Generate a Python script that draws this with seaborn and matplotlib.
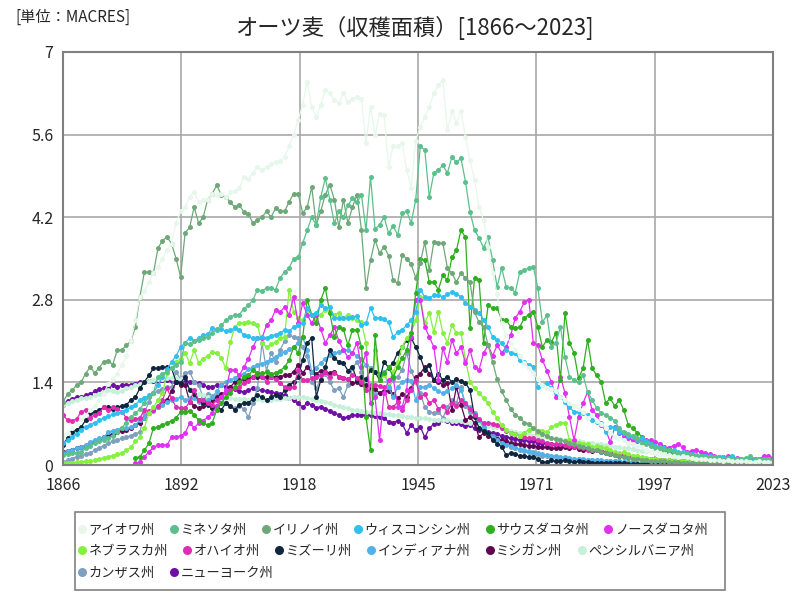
import numpy as np
import pandas as pd
import matplotlib
matplotlib.use("Agg")
import matplotlib.pyplot as plt
from matplotlib.lines import Line2D
from matplotlib.patches import Rectangle
import seaborn as sns

N = None
years = list(range(1866, 2024))

iowa = [0.50, 0.55, 0.62, 0.70, 0.78, 0.85, 0.93, 1.00, 1.10, 1.20,
        1.38, 1.45, 1.55, 1.70, 1.85, 2.10, 2.45, 2.85, 2.95, 3.10,
        3.25, 3.35, 3.50, 3.65, 3.75, 4.10, 4.30, 4.37, 4.55, 4.63,
        4.45, 4.50, 4.50, 4.60, 4.58, 4.60, 4.55, 4.62, 4.65, 4.70,
        4.88, 4.85, 4.95, 5.05, 5.00, 5.05, 5.10, 5.13, 5.15, 5.22,
        5.40, 5.60, 5.85, 6.10, 6.50, 6.07, 5.90, 6.10, 6.36, 6.30,
        6.19, 6.13, 6.30, 6.15, 6.20, 6.24, 6.20, 5.45, 6.07, 5.60,
        5.95, 5.93, 5.05, 5.40, 5.40, 5.45, 5.00, 4.70, 5.50, 5.73,
        5.90, 6.07, 6.30, 6.44, 6.52, 5.68, 6.00, 5.80, 6.00, 5.56,
        5.17, 4.83, 4.37, 4.15, 3.70, 3.25, 2.90, 2.40, 2.20, 2.07,
        1.95, 1.85, 1.73, 1.65, 1.56, 1.45, 1.35, 1.30, 1.28, 1.25,
        1.15, 1.10, 1.05, 1.00, 0.95, 0.90, 0.80, 0.85, 0.75, 0.70,
        0.62, 0.55, 0.48, 0.45, 0.42, 0.38, 0.35, 0.32, 0.30, 0.25,
        0.22, 0.20, 0.19, 0.18, 0.17, 0.15, 0.14, 0.15, 0.13, 0.12,
        0.11, 0.10, 0.10, 0.09, 0.09, 0.08, 0.07, 0.08, 0.07, 0.06,
        0.06, 0.06, 0.05, 0.05, 0.06, 0.05, 0.05, 0.05]

minnesota = [0.17, 0.19, 0.20, 0.21, 0.22, 0.28, 0.33, 0.37, 0.40, 0.43,
             0.45, 0.50, 0.56, 0.63, 0.72, 0.81, 0.88, 0.95, 1.05, 1.15,
             1.22, 1.50, 1.55, 1.58, 1.64, 1.70, 1.75, 2.07, 2.05, 2.10,
             2.12, 2.15, 2.17, 2.24, 2.30, 2.37, 2.45, 2.51, 2.54, 2.55,
             2.65, 2.71, 2.80, 2.97, 2.95, 3.00, 3.00, 2.97, 3.17, 3.27,
             3.34, 3.50, 3.52, 3.76, 3.98, 4.20, 4.07, 4.54, 4.86, 4.50,
             4.10, 4.30, 4.20, 4.40, 4.52, 4.45, 4.58, 3.98, 4.88, 4.00,
             4.07, 4.20, 3.93, 4.05, 3.90, 4.27, 4.30, 4.10, 4.50, 5.40,
             5.34, 4.54, 4.95, 5.00, 5.08, 4.95, 5.22, 5.13, 5.20, 4.80,
             4.29, 3.98, 3.85, 3.68, 3.86, 3.47, 3.02, 3.34, 3.02, 3.00,
             2.92, 3.27, 3.30, 3.34, 3.36, 3.00, 2.42, 2.54, 2.00, 2.07,
             2.34, 1.83, 1.50, 1.44, 1.40, 1.52, 1.24, 1.10, 0.97, 0.88,
             0.85, 0.80, 0.75, 0.62, 0.56, 0.52, 0.50, 0.45, 0.38, 0.35,
             0.32, 0.30, 0.28, 0.27, 0.25, 0.22, 0.20, 0.18, 0.18, 0.17,
             0.16, 0.15, 0.14, 0.14, 0.13, 0.12, 0.11, 0.12, 0.11, 0.10,
             0.10, 0.12, 0.15, 0.11, 0.10, 0.11, 0.10, 0.09]

illinois = [1.07, 1.20, 1.27, 1.35, 1.40, 1.55, 1.66, 1.56, 1.65, 1.75,
            1.77, 1.70, 1.95, 1.95, 2.03, 2.10, 2.34, 2.85, 3.27, 3.27,
            3.25, 3.68, 3.80, 3.87, 3.75, 3.50, 3.19, 3.93, 4.03, 4.37,
            4.10, 4.20, 4.50, 4.60, 4.74, 4.58, 4.55, 4.45, 4.37, 4.40,
            4.29, 4.25, 4.10, 4.15, 4.20, 4.30, 4.20, 4.35, 4.30, 4.30,
            4.46, 4.60, 4.60, 4.27, 4.37, 4.71, 4.07, 4.30, 4.58, 4.75,
            4.50, 4.03, 4.50, 4.10, 4.37, 4.58, 3.98, 3.00, 3.47, 3.81,
            3.59, 3.70, 3.55, 3.13, 3.08, 3.56, 3.50, 3.40, 3.17, 3.42,
            3.78, 3.30, 3.78, 3.76, 3.76, 3.34, 3.25, 3.10, 3.25, 3.17,
            3.10, 2.59, 2.42, 2.34, 2.03, 1.75, 1.45, 1.25, 1.10, 0.95,
            0.85, 0.80, 0.72, 0.70, 0.62, 0.58, 0.52, 0.50, 0.45, 0.44,
            0.42, 0.40, 0.38, 0.35, 0.33, 0.30, 0.28, 0.26, 0.25, 0.22,
            0.20, 0.18, 0.17, 0.15, 0.14, 0.12, 0.11, 0.10, 0.09, 0.08,
            0.07, 0.07, 0.06, 0.06, 0.05, 0.05, 0.05, 0.04, 0.04, 0.04,
            0.04, 0.03, 0.03, 0.03, 0.03, 0.03, 0.02, 0.02, 0.02, 0.02,
            0.02, 0.02, 0.02, 0.02, 0.02, 0.02, 0.02, 0.02]

wisconsin = [0.37, 0.42, 0.47, 0.53, 0.60, 0.64, 0.68, 0.72, 0.76, 0.80,
             0.83, 0.86, 0.88, 0.90, 0.93, 0.98, 1.02, 1.10, 1.14, 1.18,
             1.22, 1.35, 1.50, 1.62, 1.75, 1.85, 2.00, 2.07, 2.15, 2.10,
             2.15, 2.20, 2.22, 2.32, 2.29, 2.30, 2.27, 2.29, 2.32, 2.29,
             2.20, 2.18, 2.15, 2.15, 2.17, 2.15, 2.19, 2.21, 2.24, 2.29,
             2.27, 2.34, 2.37, 2.40, 2.66, 2.54, 2.58, 2.71, 2.66, 2.68,
             2.49, 2.49, 2.49, 2.49, 2.51, 2.53, 2.37, 2.40, 2.66, 2.49,
             2.49, 2.47, 2.42, 2.17, 2.25, 2.29, 2.37, 2.46, 2.60, 2.97,
             2.85, 2.83, 2.88, 2.88, 2.85, 2.90, 2.93, 2.90, 2.85, 2.74,
             2.68, 2.63, 2.58, 2.46, 2.34, 2.17, 2.12, 2.07, 1.95, 1.90,
             1.90, 1.78, 1.75, 1.70, 1.66, 1.32, 1.36, 1.39, 1.30, 1.24,
             1.15, 1.07, 0.98, 0.90, 0.90, 0.88, 0.85, 0.76, 0.73, 0.71,
             0.56, 0.64, 0.63, 0.56, 0.54, 0.50, 0.47, 0.42, 0.45, 0.40,
             0.36, 0.33, 0.30, 0.28, 0.26, 0.25, 0.22, 0.22, 0.20, 0.19,
             0.17, 0.16, 0.15, 0.16, 0.14, 0.13, 0.13, 0.12, 0.15, 0.11,
             0.10, 0.10, 0.09, 0.10, 0.11, 0.09, 0.10, 0.09]

south_dakota = [N, N, N, N, N, N, N, N, N, N,
                N, N, N, N, N, N, 0.12, 0.14, 0.25, 0.37,
                0.63, 0.64, 0.68, 0.71, 0.75, 0.80, 0.90, 0.90, 0.92, 0.85,
                0.76, 0.71, 0.68, 0.72, 0.93, 1.05, 1.15, 1.22, 1.32, 1.41,
                1.49, 1.52, 1.61, 1.55, 1.56, 1.57, 1.55, 1.56, 1.60, 1.66,
                1.78, 2.00, 1.90, 2.17, 2.80, 2.55, 2.40, 2.80, 3.00, 2.58,
                2.17, 2.34, 2.30, 2.03, 2.29, 2.29, 2.00, 0.81, 0.25, 2.20,
                1.44, 1.56, 1.66, 1.49, 1.66, 1.81, 1.95, 2.24, 2.92, 3.50,
                3.47, 3.10, 3.10, 2.97, 3.22, 3.13, 3.52, 3.64, 3.98, 3.86,
                2.32, 3.17, 3.13, 2.07, 2.71, 2.66, 2.66, 2.46, 2.46, 2.34,
                2.32, 2.34, 2.49, 2.55, 2.60, 2.34, 2.00, 2.12, 2.08, 2.24,
                1.44, 2.58, 2.07, 1.90, 1.47, 1.64, 2.12, 1.64, 1.52, 1.41,
                1.05, 1.13, 1.00, 1.10, 0.93, 0.68, 0.62, 0.55, 0.48, 0.40,
                0.35, 0.30, 0.28, 0.25, 0.22, 0.20, 0.18, 0.20, 0.17, 0.16,
                0.15, 0.14, 0.13, 0.14, 0.12, 0.11, 0.12, 0.11, 0.10, 0.10,
                0.09, 0.08, 0.09, 0.10, 0.08, 0.09, 0.08, 0.07]

north_dakota = [N, N, N, N, N, N, N, N, N, N,
                N, N, N, N, N, N, 0.03, 0.05, 0.14, 0.22,
                0.30, 0.34, 0.34, 0.34, 0.47, 0.47, 0.50, 0.54, 0.71, 0.63,
                0.71, 0.75, 0.81, 0.88, 1.00, 1.15, 1.27, 1.61, 1.61, 1.52,
                1.66, 1.80, 2.00, 2.15, 2.15, 2.37, 2.45, 2.63, 2.59, 2.68,
                2.54, 2.85, 2.40, 2.74, 2.55, 2.40, 2.55, 2.30, 2.07, 2.20,
                2.34, 2.10, 1.95, 1.83, 1.90, 2.07, 1.66, 1.90, 1.05, 1.15,
                0.42, 1.22, 1.44, 1.49, 0.98, 0.98, 1.27, 2.17, 2.80, 2.80,
                2.34, 2.17, 2.00, 1.44, 1.98, 1.75, 2.12, 1.90, 2.00, 1.73,
                1.95, 1.66, 1.61, 1.90, 2.03, 1.85, 2.03, 1.90, 2.00, 2.20,
                2.49, 2.60, 2.76, 2.80, 2.07, 2.03, 1.78, 1.60, 1.40, 1.15,
                1.50, 1.22, 0.81, 0.42, 0.81, 1.05, 1.24, 0.93, 0.85, 0.68,
                0.60, 0.39, 0.64, 0.55, 0.50, 0.45, 0.42, 0.40, 0.42, 0.42,
                0.42, 0.39, 0.36, 0.30, 0.29, 0.33, 0.36, 0.30, 0.22, 0.24,
                0.25, 0.22, 0.20, 0.18, 0.16, 0.14, 0.13, 0.15, 0.13, 0.12,
                0.11, 0.10, 0.11, 0.10, 0.11, 0.15, 0.16, 0.12]

nebraska = [0.03, 0.04, 0.04, 0.05, 0.05, 0.06, 0.07, 0.08, 0.10, 0.12,
            0.14, 0.16, 0.18, 0.20, 0.25, 0.30, 0.40, 0.47, 0.63, 0.88,
            0.98, 1.10, 1.22, 1.56, 1.64, 1.75, 1.80, 1.90, 1.73, 1.95,
            1.73, 1.80, 1.85, 1.92, 1.90, 1.81, 1.64, 2.08, 2.34, 2.41,
            2.40, 2.42, 2.40, 2.37, 2.07, 2.00, 2.05, 2.08, 2.15, 2.17,
            2.97, 2.60, 2.50, 2.45, 2.63, 2.55, 2.50, 2.55, 2.63, 2.60,
            2.55, 2.58, 2.50, 2.55, 2.49, 2.45, 2.42, 2.07, 1.05, 1.95,
            1.44, 1.52, 1.41, 1.58, 1.75, 2.00, 2.15, 2.24, 2.46, 2.85,
            2.41, 2.58, 2.25, 2.59, 2.24, 2.07, 2.37, 2.24, 2.24, 1.78,
            1.41, 1.30, 1.22, 1.13, 1.05, 0.90, 0.80, 0.68, 0.59, 0.55,
            0.52, 0.50, 0.55, 0.60, 0.63, 0.56, 0.58, 0.56, 0.64, 0.68,
            0.71, 0.72, 0.42, 0.40, 0.38, 0.36, 0.35, 0.30, 0.32, 0.30,
            0.28, 0.25, 0.22, 0.20, 0.22, 0.18, 0.16, 0.15, 0.13, 0.12,
            0.11, 0.10, 0.09, 0.09, 0.08, 0.08, 0.07, 0.07, 0.06, 0.06,
            0.06, 0.05, 0.05, 0.05, 0.05, 0.04, 0.04, 0.04, 0.04, 0.04,
            0.04, 0.04, 0.03, 0.04, 0.04, 0.03, 0.03, 0.03]

ohio = [0.85, 0.76, 0.75, 0.78, 0.90, 0.93, 0.80, 0.85, 0.88, 0.98,
        0.93, 0.98, 0.95, 0.90, 0.80, 0.76, 0.78, 0.80, 0.93, 0.92,
        0.93, 1.00, 1.10, 1.30, 1.13, 0.98, 0.97, 0.96, 1.07, 1.27,
        1.10, 1.10, 1.05, 1.02, 1.10, 1.15, 1.22, 1.27, 1.30, 1.32,
        1.39, 1.42, 1.50, 1.56, 1.50, 1.41, 1.49, 1.45, 1.39, 1.32,
        1.30, 1.32, 1.61, 1.44, 1.44, 1.47, 1.49, 1.52, 1.58, 1.49,
        1.56, 1.50, 1.47, 1.45, 1.52, 1.48, 1.40, 1.27, 1.36, 1.36,
        1.34, 1.32, 0.98, 0.98, 1.07, 0.93, 1.10, 1.27, 1.44, 1.15,
        1.20, 1.05, 1.10, 0.95, 1.00, 0.90, 1.05, 1.00, 1.10, 1.05,
        0.95, 0.85, 0.78, 0.71, 0.72, 0.70, 0.68, 0.62, 0.58, 0.55,
        0.52, 0.50, 0.48, 0.45, 0.45, 0.42, 0.40, 0.38, 0.36, 0.36,
        0.35, 0.34, 0.32, 0.30, 0.30, 0.28, 0.26, 0.25, 0.25, 0.24,
        0.22, 0.20, 0.19, 0.18, 0.17, 0.15, 0.14, 0.13, 0.12, 0.11,
        0.10, 0.09, 0.08, 0.08, 0.07, 0.07, 0.06, 0.06, 0.06, 0.05,
        0.05, 0.05, 0.04, 0.04, 0.04, 0.04, 0.04, 0.03, 0.03, 0.03,
        0.03, 0.03, 0.03, 0.03, 0.03, 0.03, 0.03, 0.03]

missouri = [0.34, 0.46, 0.56, 0.60, 0.64, 0.76, 0.88, 0.90, 0.93, 0.98,
            0.98, 0.95, 0.98, 1.00, 1.02, 1.10, 1.15, 1.30, 1.41, 1.52,
            1.64, 1.64, 1.66, 1.66, 1.64, 1.41, 1.39, 1.49, 1.27, 1.20,
            1.10, 1.05, 1.02, 0.97, 1.00, 0.93, 1.05, 1.00, 0.93, 1.02,
            1.05, 1.05, 1.12, 1.19, 1.15, 1.10, 1.15, 1.19, 1.15, 1.27,
            1.36, 1.40, 1.49, 1.78, 2.07, 2.15, 1.15, 1.44, 1.66, 1.95,
            1.81, 1.75, 1.73, 1.60, 1.66, 1.44, 1.50, 1.45, 1.61, 1.58,
            1.44, 1.75, 1.65, 1.73, 1.90, 2.00, 2.12, 2.15, 2.00, 1.83,
            1.61, 1.70, 1.44, 1.55, 1.44, 1.50, 1.40, 1.45, 1.42, 1.39,
            1.27, 0.81, 0.63, 0.58, 0.54, 0.42, 0.36, 0.31, 0.17, 0.20,
            0.18, 0.16, 0.15, 0.14, 0.13, 0.10, 0.05, 0.05, 0.08, 0.06,
            0.06, 0.08, 0.06, 0.05, 0.06, 0.05, 0.05, 0.04, 0.04, 0.04,
            0.04, 0.03, 0.03, 0.03, 0.03, 0.02, 0.02, 0.02, 0.02, 0.02,
            0.02, 0.02, 0.02, 0.02, 0.02, 0.01, 0.01, 0.01, 0.01, 0.01,
            0.01, 0.01, 0.01, 0.01, 0.01, 0.01, 0.01, 0.01, 0.01, 0.01,
            0.01, 0.01, 0.01, 0.01, 0.01, 0.01, 0.01, 0.01]

indiana = [0.20, 0.23, 0.26, 0.28, 0.30, 0.34, 0.39, 0.42, 0.45, 0.47,
           0.56, 0.58, 0.60, 0.63, 0.63, 0.64, 0.68, 0.76, 0.80, 0.88,
           0.92, 0.98, 1.02, 1.06, 1.10, 1.12, 1.15, 1.10, 1.13, 1.13,
           1.07, 1.05, 1.10, 1.15, 1.25, 1.36, 1.40, 1.44, 1.48, 1.52,
           1.55, 1.62, 1.66, 1.70, 1.72, 1.75, 1.78, 1.83, 1.88, 1.92,
           1.96, 2.00, 2.07, 2.17, 1.95, 1.58, 1.65, 1.73, 1.80, 1.86,
           1.90, 1.92, 1.95, 1.95, 1.90, 1.85, 1.80, 1.70, 1.65, 1.58,
           1.55, 1.58, 1.32, 1.15, 1.32, 1.41, 1.44, 1.42, 1.10, 1.32,
           1.32, 1.36, 1.30, 1.25, 1.22, 1.25, 1.30, 1.36, 1.27, 1.05,
           0.98, 0.88, 0.76, 0.64, 0.54, 0.48, 0.42, 0.38, 0.34, 0.32,
           0.29, 0.27, 0.25, 0.23, 0.22, 0.20, 0.18, 0.17, 0.16, 0.15,
           0.14, 0.13, 0.12, 0.11, 0.10, 0.10, 0.09, 0.09, 0.08, 0.08,
           0.07, 0.07, 0.06, 0.06, 0.05, 0.05, 0.05, 0.04, 0.04, 0.04,
           0.03, 0.03, 0.03, 0.03, 0.03, 0.02, 0.02, 0.02, 0.02, 0.02,
           0.02, 0.02, 0.02, 0.02, 0.02, 0.02, 0.02, 0.02, 0.02, 0.02,
           0.01, 0.01, 0.01, 0.01, 0.01, 0.01, 0.01, 0.01]

michigan = [0.22, 0.24, 0.26, 0.28, 0.30, 0.33, 0.37, 0.40, 0.44, 0.48,
            0.50, 0.53, 0.56, 0.58, 0.59, 0.62, 0.68, 0.71, 0.80, 0.88,
            0.93, 0.98, 1.04, 1.10, 1.25, 1.40, 1.36, 1.36, 1.07, 1.00,
            0.97, 1.00, 1.05, 1.10, 1.15, 1.20, 1.24, 1.32, 1.41, 1.44,
            1.46, 1.48, 1.49, 1.49, 1.49, 1.49, 1.49, 1.50, 1.50, 1.52,
            1.52, 1.58, 1.70, 1.56, 1.66, 1.58, 1.55, 1.60, 1.58, 1.56,
            1.58, 1.50, 1.48, 1.45, 1.39, 1.40, 1.37, 1.36, 1.30, 1.28,
            1.22, 1.26, 1.25, 1.20, 1.13, 1.20, 1.15, 1.30, 1.49, 1.55,
            1.66, 1.55, 1.44, 1.41, 1.36, 1.39, 0.93, 1.32, 1.02, 0.76,
            0.81, 0.71, 0.47, 0.54, 0.50, 0.47, 0.44, 0.42, 0.40, 0.38,
            0.36, 0.35, 0.34, 0.33, 0.32, 0.31, 0.30, 0.30, 0.28, 0.28,
            0.29, 0.31, 0.28, 0.30, 0.27, 0.26, 0.28, 0.24, 0.25, 0.22,
            0.20, 0.19, 0.17, 0.16, 0.15, 0.14, 0.13, 0.12, 0.11, 0.10,
            0.09, 0.08, 0.08, 0.07, 0.07, 0.06, 0.06, 0.06, 0.05, 0.05,
            0.05, 0.04, 0.04, 0.04, 0.04, 0.03, 0.03, 0.03, 0.03, 0.03,
            0.03, 0.03, 0.03, 0.03, 0.03, 0.03, 0.03, 0.03]

pennsylvania = [1.02, 1.05, 1.08, 1.11, 1.13, 1.14, 1.15, 1.18, 1.20, 1.23,
                1.27, 1.26, 1.24, 1.26, 1.30, 1.32, 1.35, 1.37, 1.40, 1.42,
                1.44, 1.45, 1.46, 1.47, 1.48, 1.47, 1.45, 1.35, 1.28, 1.22,
                1.20, 1.18, 1.16, 1.15, 1.15, 1.14, 1.13, 1.13, 1.12, 1.12,
                1.12, 1.11, 1.12, 1.12, 1.11, 1.10, 1.11, 1.12, 1.12, 1.13,
                1.14, 1.15, 1.15, 1.15, 1.14, 1.12, 1.10, 1.08, 1.07, 1.05,
                1.02, 1.00, 0.98, 0.96, 0.94, 0.93, 0.92, 0.90, 0.89, 0.88,
                0.88, 0.87, 0.86, 0.85, 0.84, 0.83, 0.82, 0.81, 0.80, 0.80,
                0.79, 0.78, 0.77, 0.77, 0.76, 0.76, 0.75, 0.75, 0.74, 0.73,
                0.72, 0.71, 0.70, 0.68, 0.66, 0.65, 0.64, 0.62, 0.60, 0.58,
                0.56, 0.55, 0.53, 0.52, 0.50, 0.49, 0.48, 0.47, 0.46, 0.45,
                0.44, 0.43, 0.42, 0.41, 0.40, 0.39, 0.38, 0.37, 0.36, 0.35,
                0.34, 0.33, 0.31, 0.30, 0.29, 0.28, 0.27, 0.26, 0.24, 0.23,
                0.22, 0.21, 0.20, 0.19, 0.18, 0.17, 0.16, 0.16, 0.15, 0.14,
                0.13, 0.13, 0.12, 0.12, 0.11, 0.11, 0.10, 0.10, 0.10, 0.09,
                0.09, 0.09, 0.08, 0.08, 0.08, 0.08, 0.07, 0.07]

kansas = [0.05, 0.08, 0.11, 0.14, 0.16, 0.18, 0.20, 0.25, 0.29, 0.33,
          0.37, 0.40, 0.43, 0.45, 0.47, 0.50, 0.53, 0.56, 0.88, 1.07,
          1.22, 1.25, 1.28, 1.32, 1.32, 1.58, 1.45, 1.56, 1.58, 1.41,
          1.35, 1.15, 1.20, 1.17, 1.18, 1.10, 1.05, 1.00, 0.97, 1.00,
          0.95, 0.81, 1.05, 1.30, 2.07, 1.60, 1.90, 1.75, 1.95, 2.10,
          2.20, 2.17, 2.15, 2.00, 1.85, 1.41, 1.30, 1.45, 1.55, 1.40,
          1.27, 1.30, 1.15, 1.35, 1.64, 1.75, 1.58, 1.27, 1.25, 1.20,
          1.22, 1.22, 1.30, 1.45, 1.50, 1.61, 1.90, 1.60, 1.40, 1.22,
          0.98, 0.90, 0.88, 0.90, 0.80, 0.98, 1.10, 1.05, 1.32, 1.00,
          0.90, 0.85, 0.75, 0.62, 0.55, 0.50, 0.45, 0.40, 0.35, 0.31,
          0.28, 0.25, 0.23, 0.22, 0.20, 0.18, 0.16, 0.15, 0.14, 0.13,
          0.12, 0.12, 0.11, 0.10, 0.10, 0.09, 0.09, 0.08, 0.08, 0.07,
          0.07, 0.06, 0.06, 0.06, 0.05, 0.05, 0.05, 0.04, 0.04, 0.04,
          0.04, 0.03, 0.03, 0.03, 0.03, 0.03, 0.03, 0.02, 0.02, 0.02,
          0.02, 0.02, 0.02, 0.02, 0.02, 0.02, 0.02, 0.02, 0.02, 0.02,
          0.02, 0.02, 0.02, 0.02, 0.02, 0.02, 0.02, 0.02]

new_york = [1.02, 1.08, 1.12, 1.15, 1.15, 1.18, 1.20, 1.25, 1.28, 1.30,
            1.32, 1.36, 1.33, 1.35, 1.36, 1.36, 1.38, 1.41, 1.41, 1.42,
            1.42, 1.43, 1.44, 1.44, 1.42, 1.41, 1.42, 1.44, 1.41, 1.41,
            1.39, 1.36, 1.32, 1.33, 1.35, 1.36, 1.33, 1.30, 1.28, 1.26,
            1.24, 1.27, 1.30, 1.28, 1.27, 1.25, 1.23, 1.22, 1.20, 1.19,
            1.13, 1.10, 1.05, 0.98, 1.05, 1.02, 0.97, 0.99, 0.95, 0.92,
            0.88, 0.85, 0.80, 0.82, 0.85, 0.84, 0.85, 0.84, 0.85, 0.83,
            0.82, 0.80, 0.73, 0.72, 0.75, 0.70, 0.54, 0.68, 0.59, 0.65,
            0.47, 0.62, 0.70, 0.72, 0.76, 0.74, 0.72, 0.71, 0.70, 0.66,
            0.68, 0.62, 0.59, 0.60, 0.56, 0.55, 0.52, 0.50, 0.48, 0.46,
            0.44, 0.43, 0.42, 0.41, 0.40, 0.38, 0.37, 0.36, 0.35, 0.34,
            0.33, 0.32, 0.31, 0.30, 0.29, 0.28, 0.27, 0.26, 0.25, 0.24,
            0.22, 0.21, 0.19, 0.18, 0.17, 0.15, 0.14, 0.13, 0.12, 0.11,
            0.10, 0.10, 0.09, 0.09, 0.08, 0.08, 0.07, 0.07, 0.07, 0.06,
            0.06, 0.06, 0.05, 0.05, 0.05, 0.05, 0.04, 0.04, 0.04, 0.04,
            0.04, 0.04, 0.04, 0.04, 0.04, 0.04, 0.04, 0.04]

states = ["アイオワ州", "ミネソタ州", "イリノイ州", "ウィスコンシン州", "サウスダコタ州", "ノースダコタ州",
          "ネブラスカ州", "オハイオ州", "ミズーリ州", "インディアナ州", "ミシガン州", "ペンシルバニア州",
          "カンザス州", "ニューヨーク州"]
series = [iowa, minnesota, illinois, wisconsin, south_dakota, north_dakota,
          nebraska, ohio, missouri, indiana, michigan, pennsylvania, kansas, new_york]
colors = ["#e8f7eb", "#5cc08c", "#6fa878", "#2ec0ee", "#2eaf1e", "#e030f0",
          "#84f040", "#e02cb4", "#10263e", "#52b2e8", "#5e0850", "#c6f0da",
          "#7f9fbf", "#6e10a4"]

xtick_labels = ["1866", "1892", "1918", "1945", "1971", "1997", "2023"]
yticks = [0, 1.4, 2.8, 4.2, 5.6, 7]
ytick_labels = ["0", "1.4", "2.8", "4.2", "5.6", "7"]

rows = []
for name, vals in zip(states, series):
    for yr, v in zip(years, vals):
        if v is not None:
            rows.append((name, yr, v))
df = pd.DataFrame(rows, columns=["state", "year", "value"])

sns.set_theme(style="white")
plt.rcParams["font.family"] = ["Noto Sans CJK JP", "DejaVu Sans"]

fig = plt.figure(figsize=(8, 6), dpi=100)
ax = fig.add_axes([63 / 800, 135 / 600, 710 / 800, 413 / 600])

palette = dict(zip(states, colors))
draw_order = states[::-1]
sns.lineplot(data=df, x="year", y="value", hue="state", hue_order=draw_order,
             palette=palette, marker="o", markersize=3.6, markeredgewidth=0,
             linewidth=0.9, estimator=None, sort=True, legend=False, ax=ax)

ax.set_xlim(1866, 2023)
ax.set_ylim(0, 7)
ax.set_xticks(np.linspace(1866, 2023, 7))
ax.set_xticklabels(xtick_labels, fontsize=11.5)
ax.set_yticks(yticks)
ax.set_yticklabels(ytick_labels, fontsize=11.5)
ax.tick_params(axis="x", length=0, pad=9)
ax.tick_params(axis="y", length=0, pad=7)
ax.grid(True, color="#a8a8a8", linewidth=1.2)
ax.set_xlabel("")
ax.set_ylabel("")
for sp in ax.spines.values():
    sp.set_color("#808080")
    sp.set_linewidth(1.5)

fig.text(414 / 800, 1 - 28 / 600, "オーツ麦（収穫面積）[1866～2023]", ha="center", va="center",
         fontsize=16)
fig.text(15 / 800, 1 - 17 / 600, "[単位：MACRES]", ha="left", va="center", fontsize=11)

# legend box, filled row by row
fig.add_artist(Rectangle((75 / 800, 1 - 590 / 600), 650 / 800, 78 / 600,
                         transform=fig.transFigure, fill=False,
                         edgecolor="#808080", linewidth=1.2))
row_groups = [list(range(0, 6)), list(range(6, 12)), list(range(12, 14))]
row_centers = [530, 551, 573]
for idxs, yc in zip(row_groups, row_centers):
    hs = [Line2D([0], [0], marker="o", linestyle="none", markersize=6.5,
                 markerfacecolor=colors[i], markeredgewidth=0) for i in idxs]
    labs = [states[i] for i in idxs]
    fig.legend(hs, labs, loc="center left", bbox_to_anchor=(76 / 800, 1 - yc / 600),
               ncol=len(idxs), frameon=False, fontsize=9.5, handletextpad=0.05,
               columnspacing=1.0, handlelength=0.9, borderpad=0.0, borderaxespad=0.0)

fig.savefig("out.png", dpi=100)
